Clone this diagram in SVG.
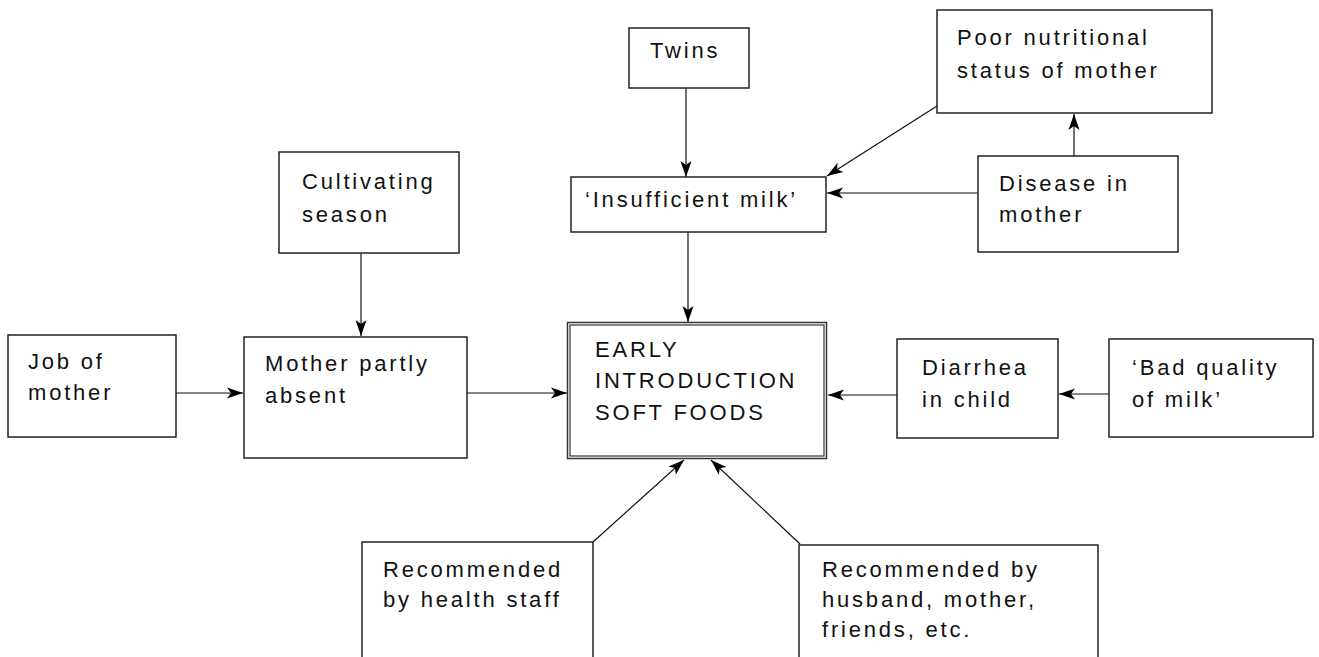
<svg xmlns="http://www.w3.org/2000/svg" width="1319" height="657" viewBox="0 0 1319 657">
<defs>
<style>
.box{fill:#fff;stroke:#222;stroke-width:1.5}
.t{font-family:"Liberation Sans",Arial,sans-serif;font-size:22px;letter-spacing:2.8px;fill:#111}
.c{fill:none;stroke:#111;stroke-width:1.2}
</style>
<marker id="ah" markerUnits="userSpaceOnUse" markerWidth="20" markerHeight="14" viewBox="-1 -7 19 14" refX="16" refY="0" orient="auto">
<path d="M0,-5.5 L16,0 L0,5.5 L4,0 Z" fill="#000"/>
</marker>
</defs>
<rect width="1319" height="657" fill="#fff"/>
<g id="connectors">
<line class="c" x1="686" y1="88" x2="686" y2="177" marker-end="url(#ah)"/>
<line class="c" x1="688" y1="232" x2="688" y2="322" marker-end="url(#ah)"/>
<line class="c" x1="937" y1="106" x2="827" y2="176" marker-end="url(#ah)"/>
<line class="c" x1="978" y1="193" x2="827" y2="193" marker-end="url(#ah)"/>
<line class="c" x1="1074" y1="156" x2="1074" y2="114" marker-end="url(#ah)"/>
<line class="c" x1="361" y1="253" x2="361" y2="336" marker-end="url(#ah)"/>
<line class="c" x1="176" y1="393" x2="243" y2="393" marker-end="url(#ah)"/>
<line class="c" x1="467" y1="393" x2="567" y2="393" marker-end="url(#ah)"/>
<line class="c" x1="1109" y1="394" x2="1059" y2="394" marker-end="url(#ah)"/>
<line class="c" x1="897" y1="395" x2="828" y2="395" marker-end="url(#ah)"/>
<line class="c" x1="593" y1="542" x2="684" y2="460" marker-end="url(#ah)"/>
<line class="c" x1="800" y1="544" x2="711" y2="460" marker-end="url(#ah)"/>
</g>
<g id="twins">
<rect class="box" x="629" y="28" width="120" height="60"/>
<text class="t" x="650" y="58">Twins</text>
</g>
<g id="poor-nutrition">
<rect class="box" x="937" y="10" width="275" height="103"/>
<text class="t" x="957" y="45">Poor nutritional</text>
<text class="t" x="957" y="78">status of mother</text>
</g>
<g id="insufficient-milk">
<rect class="box" x="571" y="177" width="255" height="55"/>
<text class="t" x="585" y="207">‘Insufficient milk’</text>
</g>
<g id="disease">
<rect class="box" x="978" y="156" width="200" height="96"/>
<text class="t" x="999" y="191">Disease in</text>
<text class="t" x="999" y="222">mother</text>
</g>
<g id="cultivating">
<rect class="box" x="279" y="152" width="180" height="101"/>
<text class="t" x="302" y="189">Cultivating</text>
<text class="t" x="302" y="222">season</text>
</g>
<g id="job">
<rect class="box" x="8" y="335" width="168" height="102"/>
<text class="t" x="28" y="369">Job of</text>
<text class="t" x="28" y="400">mother</text>
</g>
<g id="mother-absent">
<rect class="box" x="244" y="337" width="223" height="121"/>
<text class="t" x="265" y="371">Mother partly</text>
<text class="t" x="265" y="403">absent</text>
</g>
<g id="early-introduction">
<rect x="567.5" y="322.5" width="259" height="136" fill="#fff" stroke="#333" stroke-width="1.5"/>
<rect x="570" y="325" width="254" height="131" fill="none" stroke="#333" stroke-width="1.2"/>
<text class="t" x="595" y="357">EARLY</text>
<text class="t" x="595" y="388">INTRODUCTION</text>
<text class="t" x="595" y="420">SOFT FOODS</text>
</g>
<g id="diarrhea">
<rect class="box" x="897" y="339" width="161" height="99"/>
<text class="t" x="922" y="375">Diarrhea</text>
<text class="t" x="922" y="407">in child</text>
</g>
<g id="bad-quality">
<rect class="box" x="1109" y="339" width="204" height="98"/>
<text class="t" x="1132" y="375">‘Bad quality</text>
<text class="t" x="1132" y="407">of milk’</text>
</g>
<g id="health-staff">
<path class="box" d="M362,660 L362,542 L593,542 L593,660" fill="#fff"/>
<text class="t" x="383" y="577">Recommended</text>
<text class="t" x="383" y="607">by health staff</text>
</g>
<g id="husband">
<path class="box" d="M799,660 L799,545 L1098,545 L1098,660" fill="#fff"/>
<text class="t" x="822" y="577">Recommended by</text>
<text class="t" x="822" y="607">husband, mother,</text>
<text class="t" x="822" y="637">friends, etc.</text>
</g>
</svg>
